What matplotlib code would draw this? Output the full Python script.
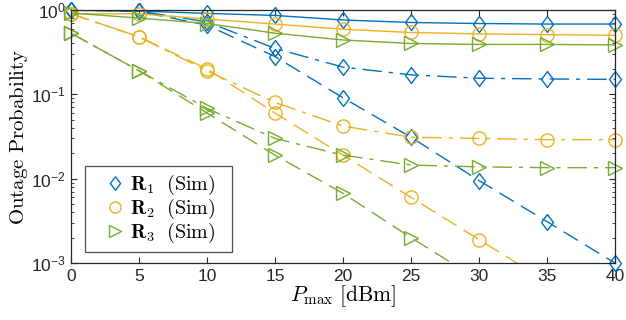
import numpy as np
import matplotlib
matplotlib.use("Agg")
import matplotlib.pyplot as plt

plt.rcParams['font.family'] = ['Liberation Sans', 'DejaVu Sans']
plt.rcParams['mathtext.fontset'] = 'cm'

# data
p_max = [0, 5, 10, 15, 20, 25, 30, 35, 40]

r1_solid = [0.99, 0.97, 0.91, 0.86, 0.76, 0.71, 0.69, 0.68, 0.68]
r1_dashdot = [1.0, 0.97, 0.72, 0.35, 0.21, 0.17, 0.155, 0.152, 0.15]
r1_dashed = [1.0, 0.96, 0.66, 0.28, 0.091, 0.031, 0.0095, 0.0031, 0.001]

r2_solid = [0.9, 0.9, 0.78, 0.68, 0.59, 0.54, 0.52, 0.51, 0.50]
r2_dashdot = [0.9, 0.48, 0.19, 0.08, 0.042, 0.031, 0.030, 0.029, 0.029]
r2_dashed = [0.9, 0.48, 0.2, 0.06, 0.019, 0.006, 0.0019, 0.0006, 0.0002]

r3_solid = [0.92, 0.8, 0.69, 0.53, 0.44, 0.40, 0.39, 0.39, 0.385]
r3_dashdot = [0.53, 0.19, 0.068, 0.030, 0.019, 0.0145, 0.0138, 0.0135, 0.0135]
r3_dashed = [0.53, 0.19, 0.06, 0.019, 0.0067, 0.0020, 0.00063, 0.0002, 0.00006]

colors = ['#0072BD', '#EDB120', '#77AC30']
diamond = [(0, 1), (0.75, 0), (0, -1), (-0.75, 0), (0, 1)]
markers = [diamond, 'o', '>']
msizes = [11.5, 9.5, 10]
labels = [r'$\mathbf{R}_1\ \ \mathrm{(Sim)}$', r'$\mathbf{R}_2\ \ \mathrm{(Sim)}$',
          r'$\mathbf{R}_3\ \ \mathrm{(Sim)}$']
series = [
    [r1_solid, r1_dashdot, r1_dashed],
    [r2_solid, r2_dashdot, r2_dashed],
    [r3_solid, r3_dashdot, r3_dashed],
]
styles = ['-', (0, (14, 5, 3, 5)), (0, (12, 6))]

fig = plt.figure(figsize=(6.26, 3.2), dpi=100)
ax = fig.add_axes([0.1134, 0.178, 0.869, 0.791])

x = np.array(p_max)
for k in range(3):
    for j in range(3):
        y = np.array(series[k][j])
        ax.plot(x, y, color=colors[k], linestyle=styles[j], linewidth=1.0)
        m = y >= 1e-3
        ax.plot(x[m], y[m], linestyle='none', marker=markers[k], markersize=msizes[k],
                markerfacecolor='none', markeredgecolor=colors[k],
                markeredgewidth=1.0, clip_on=False,
                label=labels[k] if j == 0 else None)

ax.set_yscale('log')
ax.set_ylim(1e-3, 1)
ax.set_xlim(0, 40)
ax.set_xticks(p_max)
ax.tick_params(which='both', direction='in', top=True, right=True,
               labelsize=12.5, colors='#262626')
ax.tick_params(which='major', length=4)
ax.tick_params(which='minor', length=2)
ax.tick_params(axis='x', pad=4)
for s in ax.spines.values():
    s.set_color('#262626')
    s.set_linewidth(0.9)

ax.set_xlabel(r'$P_{\max}\ \mathrm{[dBm]}$', fontsize=15.5, labelpad=0)
ax.set_ylabel(r'$\mathrm{Outage\ Probability}$', fontsize=15, labelpad=1)

leg = ax.legend(loc='lower left', bbox_to_anchor=(0.026, 0.043, 0.27, 0.3),
                mode='expand', fontsize=14.5,
                frameon=True, fancybox=False, edgecolor='#262626',
                handletextpad=-0.4, borderpad=0.35, labelspacing=0.0,
                handlelength=2.3, borderaxespad=0, markerscale=0.85)
leg.get_frame().set_linewidth(0.9)

fig.savefig('out.png', dpi=100)
